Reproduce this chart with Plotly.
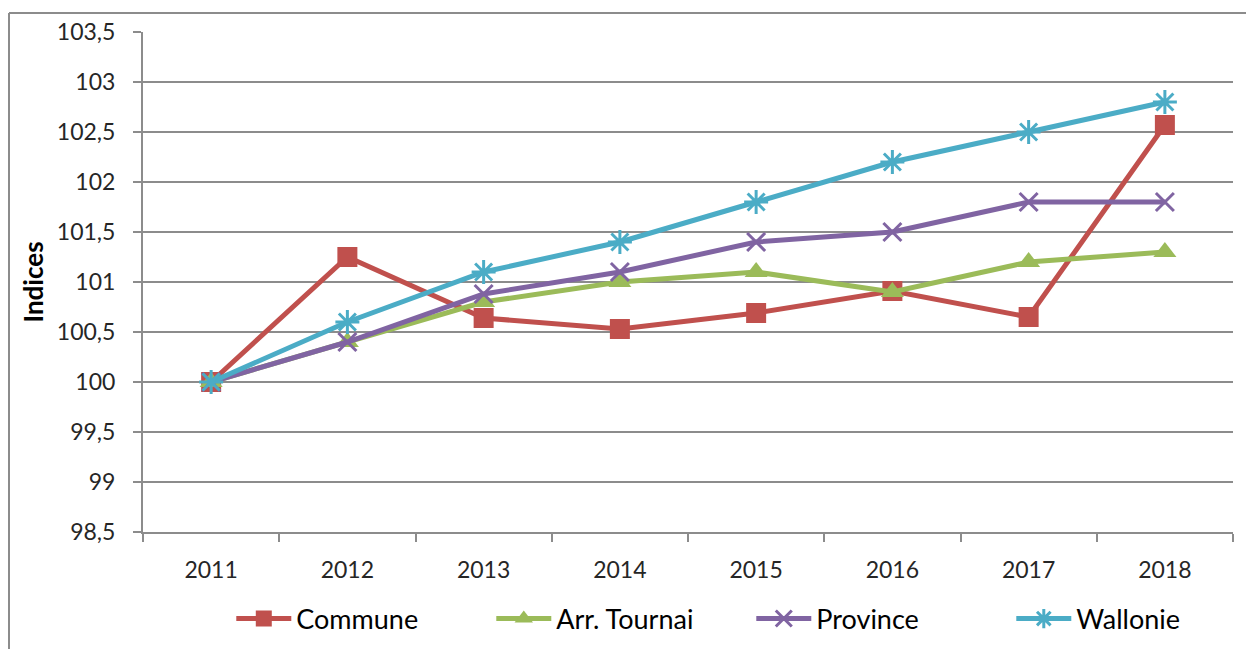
import plotly.graph_objects as go

years = ["2011", "2012", "2013", "2014", "2015", "2016", "2017", "2018"]
commune = [100.0, 101.25, 100.64, 100.53, 100.69, 100.91, 100.65, 102.57]
arr_tournai = [100.0, 100.4, 100.8, 101.0, 101.1, 100.9, 101.2, 101.3]
province = [100.0, 100.4, 100.88, 101.1, 101.4, 101.5, 101.8, 101.8]
wallonie = [100.0, 100.6, 101.1, 101.4, 101.8, 102.2, 102.5, 102.8]
y_ticks = [98.5, 99, 99.5, 100, 100.5, 101, 101.5, 102, 102.5, 103, 103.5]
y_tick_text = ["98,5", "99", "99,5", "100", "100,5", "101", "101,5", "102", "102,5", "103", "103,5"]

# page body has an 8px margin
W, H = 1246, 641
L, R, T, B = 135, 21, 24, 117
FONT = "Lato"

series = [
    ("Commune", commune, "#C0504D", dict(symbol="square", size=20, line=dict(width=0))),
    ("Arr. Tournai", arr_tournai, "#9BBB59", dict(symbol="triangle-up", size=20, line=dict(width=0))),
    ("Province", province, "#8064A2", dict(symbol="x-thin-open", size=18, line=dict(width=3, color="#8064A2"))),
    ("Wallonie", wallonie, "#4BACC6", dict(symbol="asterisk-open", size=20, line=dict(width=3, color="#4BACC6"))),
]

fig = go.Figure()
for name, vals, color, mk in series:
    fig.add_trace(go.Scatter(
        x=years, y=vals, name=name, mode="lines+markers",
        line=dict(color=color, width=5),
        marker=dict(color=color, **mk),
    ))

pw = W - L - R
ph = H - T - B
bx = (1 - L) / pw
by = (H - B - 5) / ph
fig.add_shape(type="line", xref="paper", yref="paper", x0=bx, x1=bx, y0=-0.5, y1=by,
              line=dict(color="#8c8c8c", width=2))
fig.add_shape(type="line", xref="paper", yref="paper", x0=bx, x1=1.2, y0=by, y1=by,
              line=dict(color="#8c8c8c", width=2))

fig.update_layout(
    width=W, height=H,
    margin=dict(l=L, r=R, t=T, b=B, autoexpand=False),
    paper_bgcolor="white", plot_bgcolor="white",
    font=dict(family=FONT, size=23, color="#262626"),
    showlegend=True,
    legend=dict(orientation="h", x=0.081, xanchor="left", y=-0.174, yanchor="middle",
                font=dict(family=FONT, size=27, color="#000000"),
                itemwidth=55, entrywidth=190, traceorder="normal", itemsizing="trace"),
    xaxis=dict(
        type="category", range=[-0.5, 7.5], tickson="boundaries",
        ticks="outside", ticklen=8, tickcolor="#8c8c8c", tickwidth=2,
        showline=True, linecolor="#8c8c8c", linewidth=2,
        showgrid=False, zeroline=False,
        tickfont=dict(family=FONT, size=23, color="#262626"),
        ticklabelstandoff=16,
    ),
    yaxis=dict(
        range=[98.5, 103.5], tickvals=y_ticks, ticktext=y_tick_text,
        ticks="outside", ticklen=8, tickcolor="#8c8c8c", tickwidth=2,
        showline=True, linecolor="#8c8c8c", linewidth=2,
        showgrid=True, gridcolor="#8c8c8c", gridwidth=2,
        zeroline=False,
        tickfont=dict(family=FONT, size=23, color="#262626"),
        ticklabelstandoff=13,
        title=dict(text="<b>Indices</b>", font=dict(family=FONT, size=26, color="#000000"), standoff=6),
    ),
)

fig.write_html("out.html")
